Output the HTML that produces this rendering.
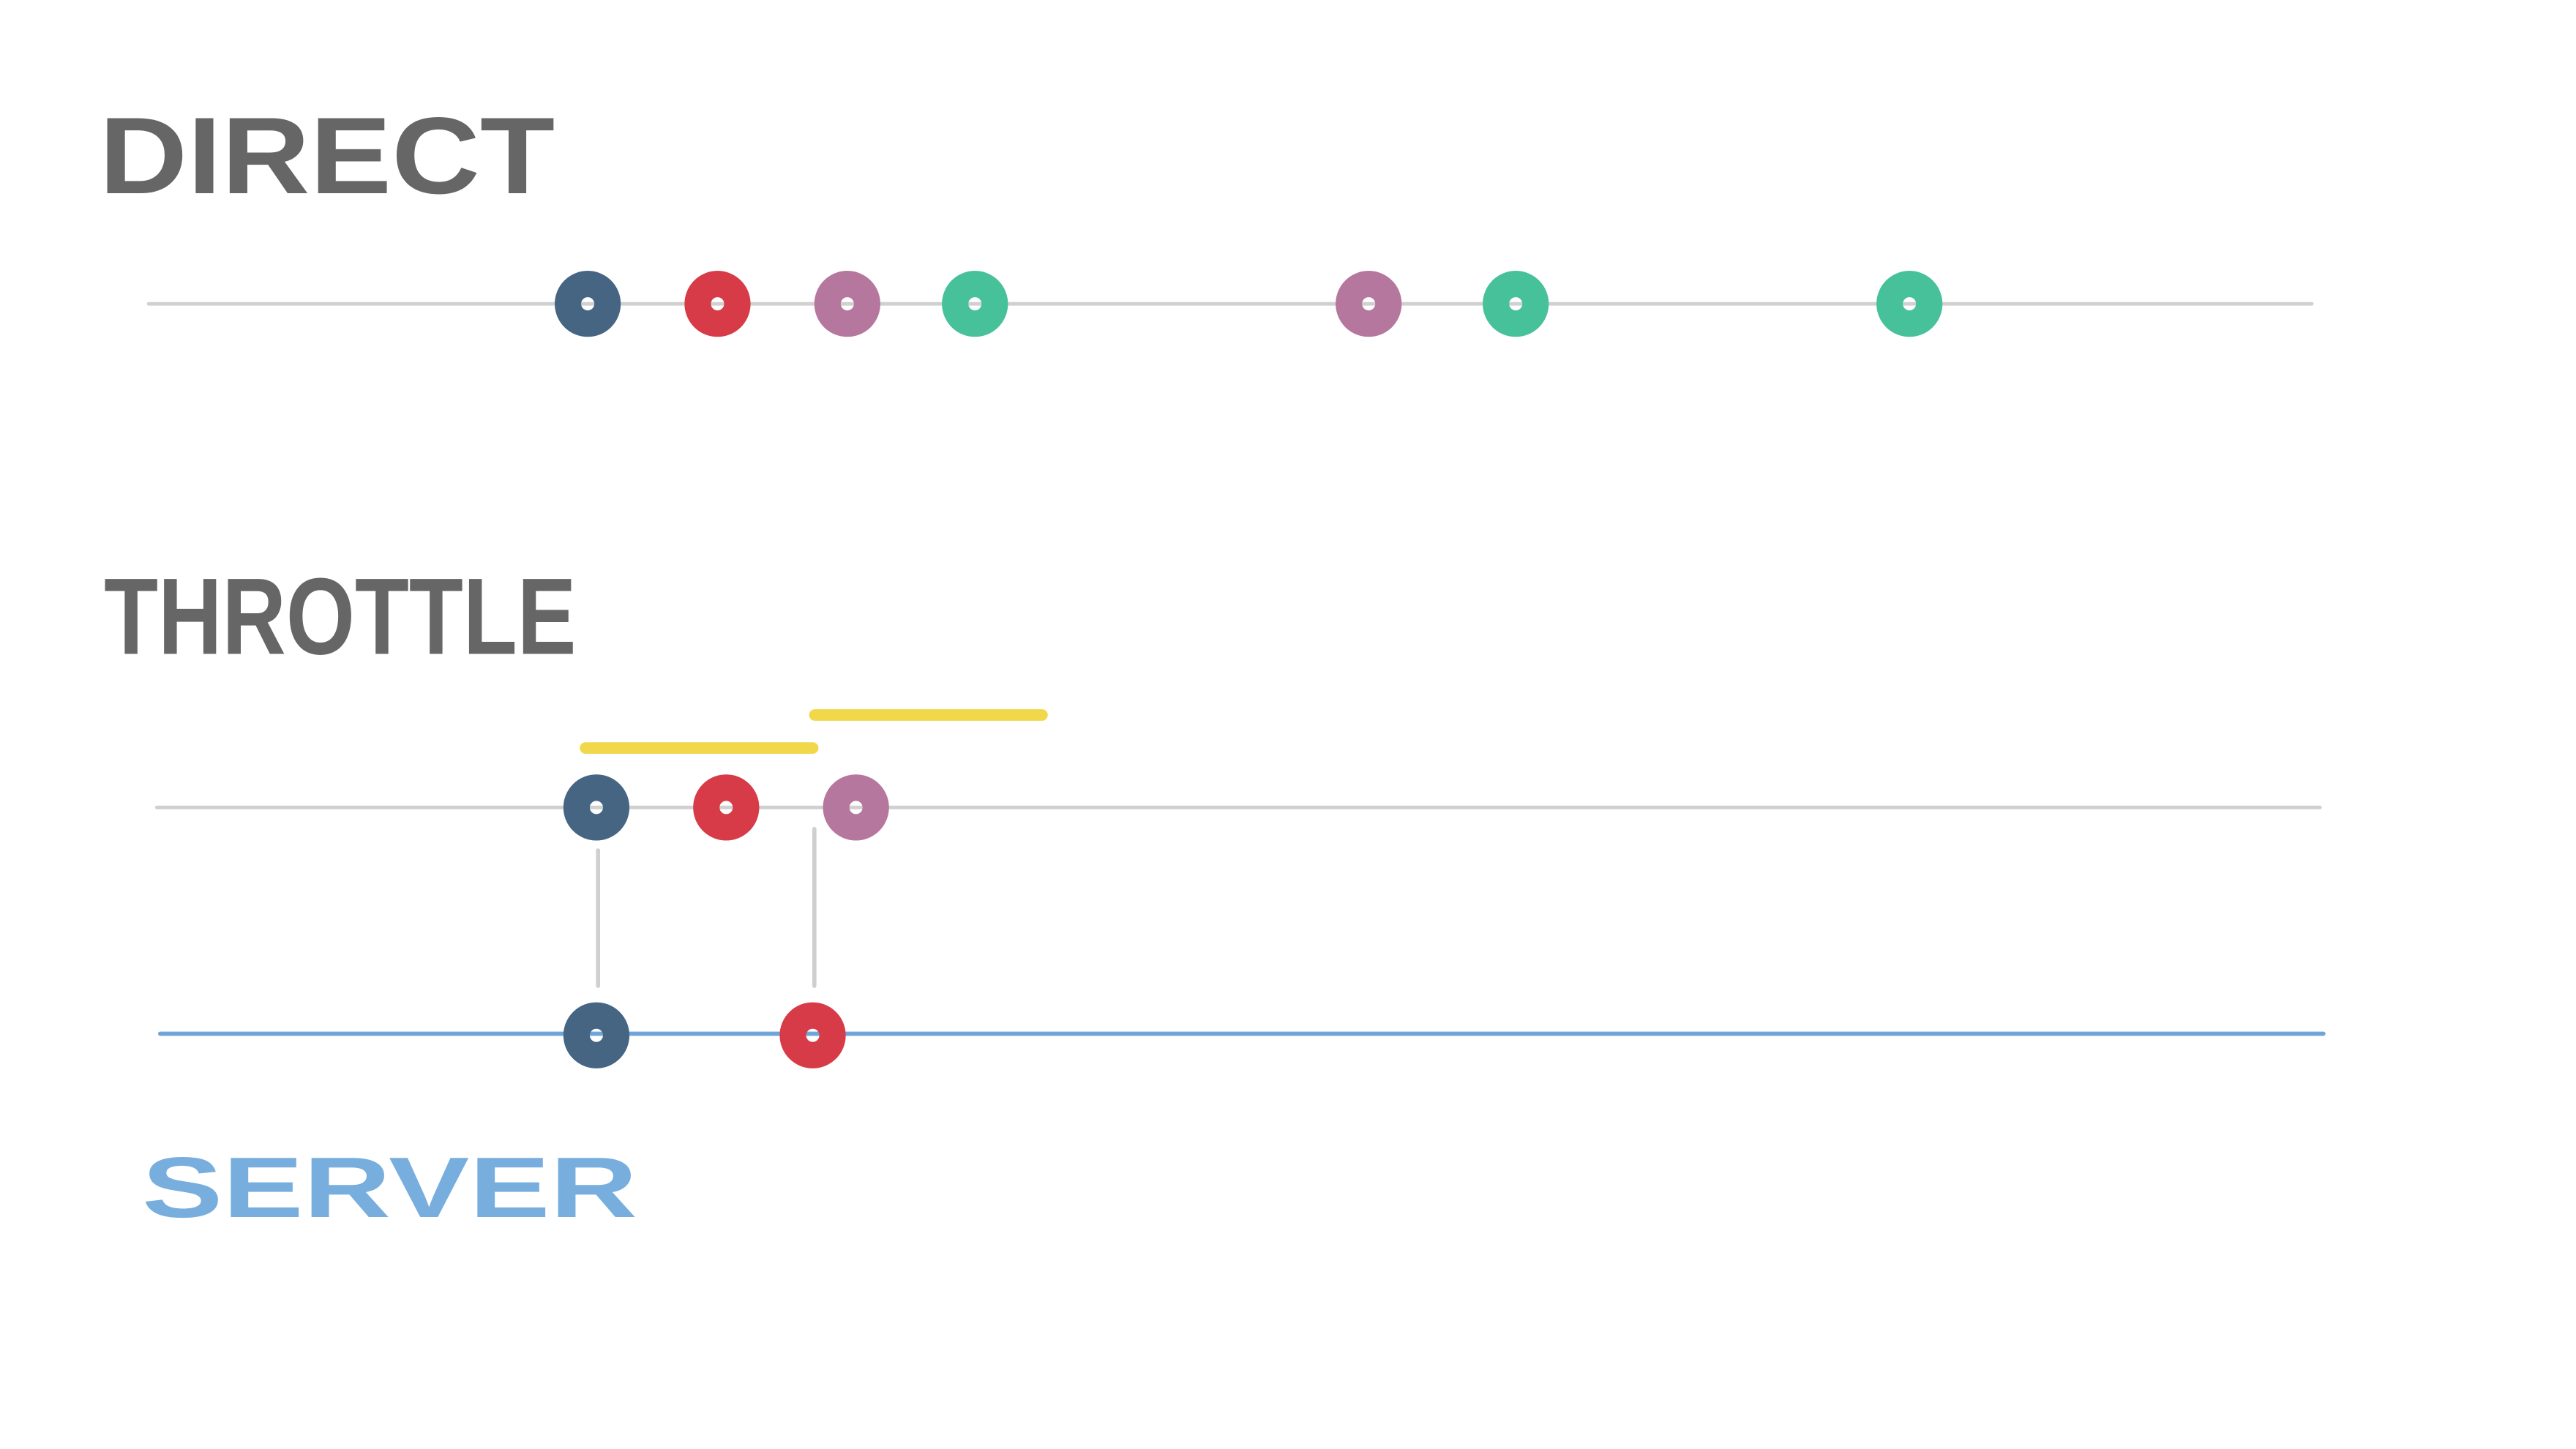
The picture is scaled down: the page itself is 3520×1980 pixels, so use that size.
<!DOCTYPE html>
<html><head><meta charset="utf-8"><style>
html,body{margin:0;padding:0;background:#fff;}
svg{display:block;}
.lbl{font-family:"Liberation Sans",sans-serif;font-weight:bold;}
</style></head><body>
<svg width="3520" height="1980" viewBox="0 0 1560 877.5" preserveAspectRatio="none" xmlns="http://www.w3.org/2000/svg">
<rect width="1560" height="877.5" fill="#fff"/>
<text class="lbl" x="60" y="117" font-size="66" fill="#666" textLength="276" lengthAdjust="spacingAndGlyphs">DIRECT</text>
<text class="lbl" x="63" y="396" font-size="66" fill="#666" textLength="286" lengthAdjust="spacingAndGlyphs">THROTTLE</text>
<text class="lbl" x="86" y="737" font-size="52" fill="#78aede" textLength="300" lengthAdjust="spacingAndGlyphs">SERVER</text>
<g id="marks"></g>
</svg>
<script>
const colors = {blue:'#456583', red:'#d63b47', purple:'#b5779d', green:'#47c19a'};
const directTimes = [203, 263, 323, 382, 564, 632, 814];
const directColors = ['blue','red','purple','green','purple','green','green'];
const throttleTimes = [207, 267, 327];
const throttleColors = ['blue','red','purple'];
const serverTimes = [207, 307];
const serverColors = ['blue','red'];
const windowStarts = [202, 308];
const windowEnds = [307, 413];
const forwardFrom = [207, 307];

const x = t => 90 + t * 1.31;
const NS = 'http://www.w3.org/2000/svg';
const g = document.getElementById('marks');
function mk(tag, attrs){const e=document.createElementNS(NS,tag);for(const k in attrs)e.setAttribute(k,attrs[k]);g.appendChild(e);return e;}

const lines=[[184,'#d0d0d0',2.2,'direct-timeline',0],[489,'#d0d0d0',2.2,'throttle-timeline',5],[626,'#6fa5d8',2.6,'server-timeline',7]];
lines.forEach(l=>{
  const e=mk('line',{x1:x(0)+l[4],x2:x(1000)+l[4],y1:l[0],y2:l[0],stroke:l[1],'stroke-width':l[2],'stroke-linecap':'round'});
  
  
});
const wy=[453,433];
windowStarts.forEach((s,i)=>{
  const e=mk('line',{x1:x(s),x2:x(windowEnds[i]),y1:wy[i],y2:wy[i],stroke:'#f0d84a','stroke-width':7,'stroke-linecap':'round'});
  
  
});
forwardFrom.forEach((t,i)=>{
  const e=mk('line',{x1:x(t)+1,x2:x(t)+1,y1:i?502:515,y2:597,stroke:'#cfcfcf','stroke-width':2.5,'stroke-linecap':'round'});
  
  
});
function dot(t,y,c,name){
  const e=mk('circle',{cx:x(t),cy:y,r:12,fill:'none',stroke:colors[c],'stroke-width':16});
  
  
}
directTimes.forEach((t,i)=>dot(t,184,directColors[i],'direct-event'));
throttleTimes.forEach((t,i)=>dot(t,489,throttleColors[i],'throttle-event'));
serverTimes.forEach((t,i)=>dot(t,627,serverColors[i],'server-event'));
</script>
</body></html>
